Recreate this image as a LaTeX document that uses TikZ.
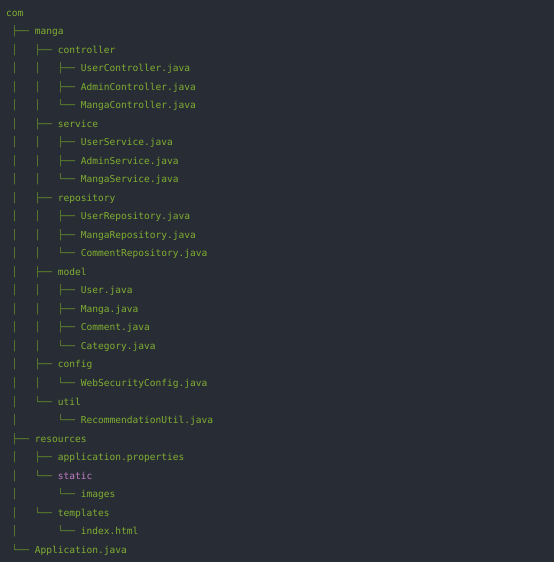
\documentclass[tikz,border=0pt]{standalone}
\usepackage{fontspec}
\setmonofont{DejaVu Sans Mono}
\definecolor{bgc}{HTML}{282C34}
\definecolor{txtc}{RGB}{128,174,50}
\definecolor{treec}{RGB}{100,142,42}
\definecolor{pinkc}{RGB}{192,124,196}
\newcommand\Tv{\textcolor{treec}{│~~~}}
\newcommand\Tt{\textcolor{treec}{├──~}}
\newcommand\Tl{\textcolor{treec}{└──~}}
\newcommand\Tb{\textcolor{treec}{~~~~}}
\tikzset{
  row/.style={anchor=mid west, inner sep=0pt, text=txtc,
    font=\ttfamily\fontsize{9.55}{12}\selectfont},
}
\begin{document}
\begin{tikzpicture}[x=1pt,y=-1pt]
\fill[bgc] (0,0) rectangle (554,562);
\useasboundingbox (0,0) rectangle (554,562);
\def\dy{18.517}
\def\yo{14}
\def\xa{6}
\def\xb{11.75}
\node[row] (r0) at (\xa,\yo+0*\dy) {com};
\node[row] (r1) at (\xb,\yo+1*\dy) {\Tt manga};
\node[row] (r2) at (\xb,\yo+2*\dy) {\Tv\Tt controller};
\node[row] (r3) at (\xb,\yo+3*\dy) {\Tv\Tv\Tt UserController.java};
\node[row] (r4) at (\xb,\yo+4*\dy) {\Tv\Tv\Tt AdminController.java};
\node[row] (r5) at (\xb,\yo+5*\dy) {\Tv\Tv\Tl MangaController.java};
\node[row] (r6) at (\xb,\yo+6*\dy) {\Tv\Tt service};
\node[row] (r7) at (\xb,\yo+7*\dy) {\Tv\Tv\Tt UserService.java};
\node[row] (r8) at (\xb,\yo+8*\dy) {\Tv\Tv\Tt AdminService.java};
\node[row] (r9) at (\xb,\yo+9*\dy) {\Tv\Tv\Tl MangaService.java};
\node[row] (r10) at (\xb,\yo+10*\dy) {\Tv\Tt repository};
\node[row] (r11) at (\xb,\yo+11*\dy) {\Tv\Tv\Tt UserRepository.java};
\node[row] (r12) at (\xb,\yo+12*\dy) {\Tv\Tv\Tt MangaRepository.java};
\node[row] (r13) at (\xb,\yo+13*\dy) {\Tv\Tv\Tl CommentRepository.java};
\node[row] (r14) at (\xb,\yo+14*\dy) {\Tv\Tt model};
\node[row] (r15) at (\xb,\yo+15*\dy) {\Tv\Tv\Tt User.java};
\node[row] (r16) at (\xb,\yo+16*\dy) {\Tv\Tv\Tt Manga.java};
\node[row] (r17) at (\xb,\yo+17*\dy) {\Tv\Tv\Tt Comment.java};
\node[row] (r18) at (\xb,\yo+18*\dy) {\Tv\Tv\Tl Category.java};
\node[row] (r19) at (\xb,\yo+19*\dy) {\Tv\Tt config};
\node[row] (r20) at (\xb,\yo+20*\dy) {\Tv\Tv\Tl WebSecurityConfig.java};
\node[row] (r21) at (\xb,\yo+21*\dy) {\Tv\Tl util};
\node[row] (r22) at (\xb,\yo+22*\dy) {\Tv\Tb\Tl RecommendationUtil.java};
\node[row] (r23) at (\xb,\yo+23*\dy) {\Tt resources};
\node[row] (r24) at (\xb,\yo+24*\dy) {\Tv\Tt application.properties};
\node[row] (r25) at (\xb,\yo+25*\dy) {\Tv\Tl \textcolor{pinkc}{static}};
\node[row] (r26) at (\xb,\yo+26*\dy) {\Tv\Tb\Tl images};
\node[row] (r27) at (\xb,\yo+27*\dy) {\Tv\Tl templates};
\node[row] (r28) at (\xb,\yo+28*\dy) {\Tv\Tb\Tl index.html};
\node[row] (r29) at (\xb,\yo+29*\dy) {\Tl Application.java};
\end{tikzpicture}
\end{document}
